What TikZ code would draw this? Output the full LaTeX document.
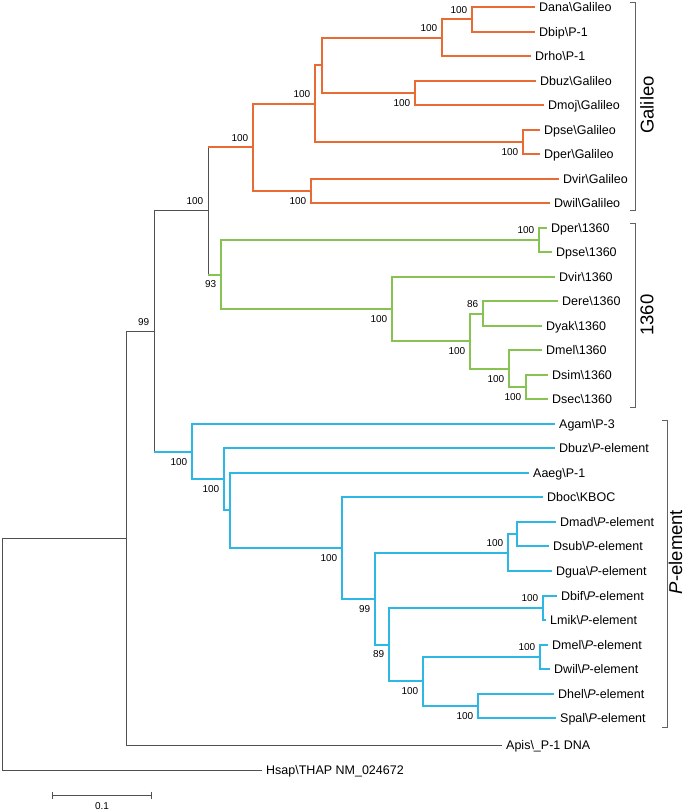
\documentclass[tikz,border=0pt]{standalone}
\usepackage{fontspec}
\setmainfont{Liberation Sans}
\usetikzlibrary{positioning, arrows.meta}

\definecolor{galileo}{RGB}{232,107,52}
\definecolor{tsixty}{RGB}{134,195,82}
\definecolor{pelem}{RGB}{45,183,228}
\definecolor{treegray}{RGB}{80,80,80}

\newcommand{\bsl}{\textbackslash}
\newcommand{\Pel}{\textit{P}-element}

\begin{document}
\begin{tikzpicture}[
    x=1pt, y=-1pt,
    leaf/.style={anchor=west, inner xsep=4pt, inner ysep=0pt,
        text height=9pt, text depth=0pt, font=\fontsize{12.5}{14}\selectfont},
    boot/.style={inner xsep=4.5pt, inner ysep=6pt,
        text height=7.2pt, text depth=0pt, font=\fontsize{10}{12}\selectfont},
    branch/.style={line width=1pt, draw=treegray},
    galbr/.style={line width=2pt, draw=galileo},
    tsbr/.style={line width=2pt, draw=tsixty},
    pbr/.style={line width=2pt, draw=pelem},
    bracket/.style={line width=1pt, draw=treegray!90},
    grouplabel/.style={rotate=90, inner sep=0pt, font=\fontsize{18.5}{20}\selectfont}
]
\useasboundingbox (0,0) rectangle (686,811);

% --- Hojas Galileo ---
\node[leaf] (GalDana) at (535,7)     {Dana\bsl Galileo};
\node[leaf] (GalDbip) at (535,31.5)  {Dbip\bsl P-1};
\node[leaf] (GalDrho) at (531,56)    {Drho\bsl P-1};
\node[leaf] (GalDbuz) at (536,80.6)  {Dbuz\bsl Galileo};
\node[leaf] (GalDmoj) at (544,105.1) {Dmoj\bsl Galileo};
\node[leaf] (GalDpse) at (540,129.6) {Dpse\bsl Galileo};
\node[leaf] (GalDper) at (540,154.1) {Dper\bsl Galileo};
\node[leaf] (GalDvir) at (559,178.6) {Dvir\bsl Galileo};
\node[leaf] (GalDwil) at (550,203.2) {Dwil\bsl Galileo};

% --- Hojas 1360 ---
\node[leaf] (TsDper) at (547,227.7) {Dper\bsl 1360};
\node[leaf] (TsDpse) at (552,252.2) {Dpse\bsl 1360};
\node[leaf] (TsDvir) at (555,276.7) {Dvir\bsl 1360};
\node[leaf] (TsDere) at (558,301.2) {Dere\bsl 1360};
\node[leaf] (TsDyak) at (542,325.8) {Dyak\bsl 1360};
\node[leaf] (TsDmel) at (542,350.3) {Dmel\bsl 1360};
\node[leaf] (TsDsim) at (548,374.8) {Dsim\bsl 1360};
\node[leaf] (TsDsec) at (548,399.3) {Dsec\bsl 1360};

% --- Hojas P-element ---
\node[leaf] (PeAgam) at (555,423.8) {Agam\bsl P-3};
\node[leaf] (PeDbuz) at (555,448.4) {Dbuz\bsl\Pel};
\node[leaf] (PeAaeg) at (529,472.9) {Aaeg\bsl P-1};
\node[leaf] (PeDboc) at (543,497.4) {Dboc\bsl KBOC};
\node[leaf] (PeDmad) at (556,521.9) {Dmad\bsl\Pel};
\node[leaf] (PeDsub) at (549,546.4) {Dsub\bsl\Pel};
\node[leaf] (PeDgua) at (552,571)   {Dgua\bsl\Pel};
\node[leaf] (PeDbif) at (557,595.5) {Dbif\bsl\Pel};
\node[leaf] (PeLmik) at (546,620)   {Lmik\bsl\Pel};
\node[leaf] (PeDmel) at (548,644.5) {Dmel\bsl\Pel};
\node[leaf] (PeDwil) at (550,669)   {Dwil\bsl\Pel};
\node[leaf] (PeDhel) at (554,693.6) {Dhel\bsl\Pel};
\node[leaf] (PeSpal) at (556,718)   {Spal\bsl\Pel};

% --- Grupos externos ---
\node[leaf] (Apis) at (502,745) {Apis\bsl\_P-1 DNA};
\node[leaf] (Hsap) at (262,770) {Hsap\bsl THAP NM\_024672};

% --- Nodos internos ---
\coordinate (GDD)  at (472,19.25);
\coordinate (GDDR) at (442,37.6);
\coordinate (GBM)  at (415,92.85);
\coordinate (GA)   at (322,65.2);
\coordinate (GPP)  at (523,141.85);
\coordinate (GB)   at (315,103.5);
\coordinate (GVW)  at (311,190.9);
\coordinate (Gal)  at (253,147.2);

\coordinate (TPP) at (539,240);
\coordinate (TEY) at (483,313.5);
\coordinate (TSS) at (526,387);
\coordinate (TMS) at (509,368.7);
\coordinate (TC)  at (470,341.1);
\coordinate (TB)  at (392,308.9);
\coordinate (Tre) at (221,274.5);
\coordinate (Top) at (208,210.8);

\coordinate (PMS)  at (517,534.2);
\coordinate (PMSG) at (508,552.6);
\coordinate (PBL)  at (543,607.8);
\coordinate (PMW)  at (540,656.8);
\coordinate (PHS)  at (478,705.8);
\coordinate (PF)   at (423,681.3);
\coordinate (PE)   at (389,644.5);
\coordinate (PD)   at (375,598.6);
\coordinate (PC)   at (342,548);
\coordinate (PB2)  at (230,510.4);
\coordinate (PB)   at (224,479.4);
\coordinate (Pel)  at (192,451.6);
\coordinate (PTop) at (154,331.2);
\coordinate (PApis) at (126,538.1);
\coordinate (Root) at (2,654);

% --- Ramas Galileo ---
\draw[galbr] (GDD) |- (GalDana.west) (GDD) |- (GalDbip.west);
\draw[galbr] (GDDR) |- (GDD) (GDDR) |- (GalDrho.west);
\draw[galbr] (GBM) |- (GalDbuz.west) (GBM) |- (GalDmoj.west);
\draw[galbr] (GA) |- (GDDR) (GA) |- (GBM);
\draw[galbr] (GPP) |- (GalDpse.west) (GPP) |- (GalDper.west);
\draw[galbr] (GB) |- (GA) (GB) |- (GPP);
\draw[galbr] (GVW) |- (GalDvir.west) (GVW) |- (GalDwil.west);
\draw[galbr] (Gal) |- (GB) (Gal) |- (GVW);

% --- Ramas 1360 ---
\draw[tsbr] (TPP) |- (TsDper.west) (TPP) |- (TsDpse.west);
\draw[tsbr] (TEY) |- (TsDere.west) (TEY) |- (TsDyak.west);
\draw[tsbr] (TSS) |- (TsDsim.west) (TSS) |- (TsDsec.west);
\draw[tsbr] (TMS) |- (TsDmel.west) (TMS) |- (TSS);
\draw[tsbr] (TC) |- (TEY) (TC) |- (TMS);
\draw[tsbr] (TB) |- (TsDvir.west) (TB) |- (TC);
\draw[tsbr] (Tre) |- (TPP) (Tre) |- (TB);

% --- Ramas P-element ---
\draw[pbr] (PMS) |- (PeDmad.west) (PMS) |- (PeDsub.west);
\draw[pbr] (PMSG) |- (PMS) (PMSG) |- (PeDgua.west);
\draw[pbr] (PBL) |- (PeDbif.west) (PBL) |- (PeLmik.west);
\draw[pbr] (PMW) |- (PeDmel.west) (PMW) |- (PeDwil.west);
\draw[pbr] (PHS) |- (PeDhel.west) (PHS) |- (PeSpal.west);
\draw[pbr] (PF) |- (PMW) (PF) |- (PHS);
\draw[pbr] (PE) |- (PBL) (PE) |- (PF);
\draw[pbr] (PD) |- (PMSG) (PD) |- (PE);
\draw[pbr] (PC) |- (PeDboc.west) (PC) |- (PD);
\draw[pbr] (PB2) |- (PeAaeg.west) (PB2) |- (PC);
\draw[pbr] (PB) |- (PeDbuz.west) (PB) |- (PB2);
\draw[pbr] (Pel) |- (PeAgam.west) (Pel) |- (PB);

% --- Tallo y raiz ---
\draw[branch] (Top |- Gal) -- (Top |- Tre);
\draw[galbr] (Top |- Gal) -- (Gal);
\draw[tsbr] (Top |- Tre) -- (Tre);
\draw[branch] (PTop |- Top) -- (PTop |- Pel);
\draw[branch] (PTop |- Top) -- (Top);
\draw[pbr] (PTop |- Pel) -- (Pel);
\draw[branch] (PApis) |- (PTop) (PApis) |- (Apis.west);
\draw[branch] (Root) |- (PApis) (Root) |- (Hsap.west);

% --- Bootstrap ---
\node[boot, above left] (bGDD)  at (GDD)  {100};
\node[boot, above left] (bGDDR) at (GDDR) {100};
\node[boot, below left] (bGBM)  at (GBM)  {100};
\node[boot, below left] (bGPP)  at (GPP)  {100};
\node[boot, above left] (bGB)   at (GB)   {100};
\node[boot, below left] (bGVW)  at (GVW)  {100};
\node[boot, above left] (bGal)  at (Gal)  {100};
\node[boot, above left] (bTPP)  at (TPP)  {100};
\node[boot, above left] (bTEY)  at (TEY)  {86};
\node[boot, below left] (bTSS)  at (TSS)  {100};
\node[boot, below left] (bTMS)  at (TMS)  {100};
\node[boot, below left] (bTC)   at (TC)   {100};
\node[boot, below left] (bTB)   at (TB)   {100};
\node[boot, below left] (bTre)  at (Tre)  {93};
\node[boot, above left] (bTop)  at (Top)  {100};
\node[boot, above left] (bPTop) at (PTop) {99};
\node[boot, below left] (bPel)  at (Pel)  {100};
\node[boot, below left] (bPB)   at (PB)   {100};
\node[boot, below left] (bPC)   at (PC)   {100};
\node[boot, above left] (bPMSG) at (PMSG) {100};
\node[boot, below left] (bPD)   at (PD)   {99};
\node[boot, below left] (bPE)   at (PE)   {89};
\node[boot, above left] (bPBL)  at (PBL)  {100};
\node[boot, below left] (bPF)   at (PF)   {100};
\node[boot, above left] (bPMW)  at (PMW)  {100};
\node[boot, below left] (bPHS)  at (PHS)  {100};

% --- Corchetes de grupo ---
\draw[bracket] (630,2) -| (635,210) -- (630,210);
\node[grouplabel] (LblGal) at (647,105) {Galileo};
\draw[bracket] (630,223) -| (635,407) -- (630,407);
\node[grouplabel] (LblTs) at (647,315) {1360};
\draw[bracket] (662,420) -| (667,727) -- (662,727);
\node[grouplabel] (LblPel) at (675.5,552) {\Pel};

% --- Escala ---
\coordinate (ScaleL) at (52,795);
\coordinate (ScaleR) at (152,795);
\draw[branch, {Bar[width=7pt]}-{Bar[width=7pt]}] (ScaleL) -- (ScaleR);
\node[inner sep=0pt, font=\fontsize{10}{12}\selectfont] (ScaleLbl) at (102,806) {0.1};

\end{tikzpicture}
\end{document}
